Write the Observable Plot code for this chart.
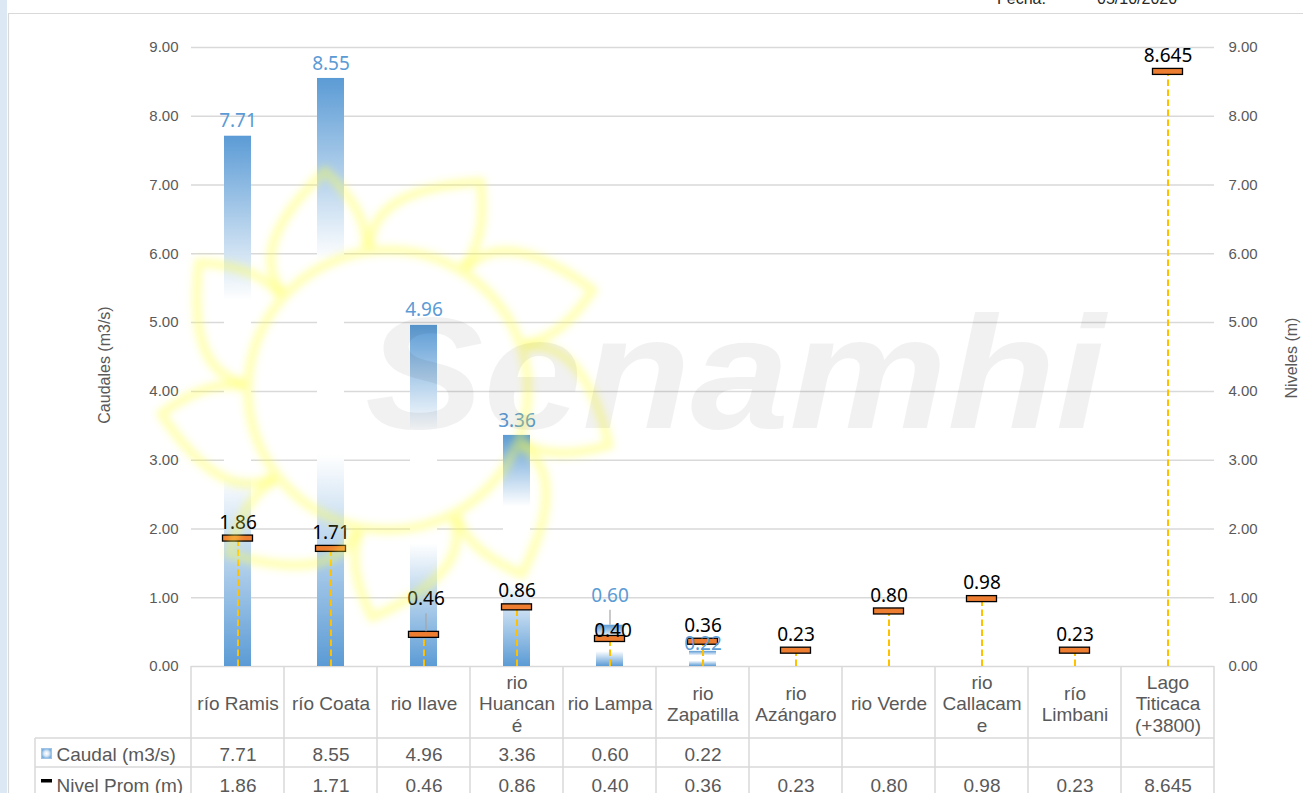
<!DOCTYPE html>
<html><head><meta charset="utf-8">
<script src="https://cdn.jsdelivr.net/npm/d3@7"></script>
<script src="https://cdn.jsdelivr.net/npm/@observablehq/plot@0.6"></script>
<style>
html,body{margin:0;padding:0;background:#fff;overflow:hidden}
#wrap{position:relative;width:1303px;height:793px}
</style></head><body><div id="wrap"></div>
<script>
// ---------- data ----------
const categories = ["río Ramis","río Coata","rio Ilave","rio Huancané","rio Lampa","rio Zapatilla","rio Azángaro","rio Verde","rio Callacame","río Limbani","Lago Titicaca (+3800)"];
const tickLabels = ["río Ramis","río Coata","rio Ilave","rio\nHuancan\né","rio Lampa","rio\nZapatilla","rio\nAzángaro","rio Verde","rio\nCallacam\ne","río\nLimbani","Lago\nTiticaca\n(+3800)"];
const caudal = [7.71, 8.55, 4.96, 3.36, 0.60, 0.22, null, null, null, null, null];
const nivel  = [1.86, 1.71, 0.46, 0.86, 0.40, 0.36, 0.23, 0.80, 0.98, 0.23, 8.645];
const yTicks = [0,1,2,3,4,5,6,7,8,9];
const seriesNames = ["Caudal (m3/s)", "Nivel Prom (m)"];
const axisTitles = ["Caudales (m3/s)", "Niveles (m)"];
const headerTexts = ["Fecha:", "05/10/2020"];
const watermarkText = "Senamhi";

// ---------- layout / style ----------
const W = 1303, H = 793, ML = 191, MR = 89, MT = 47, MB = 127;
const tickFont = "'Liberation Sans', Arial, sans-serif";
const labelFont = "'Noto Sans', 'Open Sans', sans-serif";
const BLUE = "#5b9bd5", ORANGE = "#ed7d31", GOLD = "#ffc000", GREY = "#595959", LINE = "#d9d9d9";

const rows = categories.map((cat, i) => ({cat, tick: tickLabels[i], caudal: caudal[i], nivel: nivel[i]}));
const fmt = v => { const s = String(v); const dec = (s.split(".")[1] || "").length; return v.toFixed(Math.max(2, dec)); };

// label placement tweaks (as in the original, some labels are moved to avoid overlap)
const barLabelDy = {"rio Lampa": -29, "rio Zapatilla": -7};
const nivelLabelDy = {"rio Ilave": -36, "rio Lampa": -8};
const nivelLabelDx = {"rio Ilave": 2, "rio Lampa": 3};

function offsetTexts(data, dyMap, dxMap, defDy, opts) {
  const groups = d3.group(data, d => (dyMap[d.cat] ?? defDy) + "|" + (dxMap[d.cat] ?? 0));
  return Array.from(groups, ([k, arr]) => {
    const [dy, dx] = k.split("|").map(Number);
    return Plot.text(arr, {...opts, dy, dx});
  });
}

// defs: gradients and glow filter
function defsMark() {
  const g = d3.create("svg:g");
  const defs = g.append("defs");
  const lg = defs.append("linearGradient").attr("id", "barGrad").attr("x1", 0).attr("y1", 0).attr("x2", 0).attr("y2", 1);
  [[0, BLUE], [0.31, "#ffffff"], [0.64, "#ffffff"], [1, BLUE]].forEach(([o, c]) => lg.append("stop").attr("offset", o).attr("stop-color", c));
  const rg = defs.append("radialGradient").attr("id", "iconGrad");
  [[0, "#ffffff"], [0.5, "#dbe9f6"], [1, "#7eb0de"]].forEach(([o, c]) => rg.append("stop").attr("offset", o).attr("stop-color", c));
  const f = defs.append("filter").attr("id", "glow").attr("x", "-20%").attr("y", "-20%").attr("width", "140%").attr("height", "140%");
  f.append("feGaussianBlur").attr("stdDeviation", 3.5);
  return g.node();
}

// page frame (excel sheet background)
function frameMark() {
  const g = d3.create("svg:g").attr("text-anchor", "start");
  g.append("rect").attr("x", 0).attr("y", 0).attr("width", 7).attr("height", H).attr("fill", "#dce9f5");
  g.append("line").attr("x1", 8.5).attr("x2", 8.5).attr("y1", 13).attr("y2", H).attr("stroke", LINE).attr("stroke-width", 1.2);
  g.append("line").attr("x1", 8).attr("x2", W).attr("y1", 13.5).attr("y2", 13.5).attr("stroke", LINE).attr("stroke-width", 1.2);
  g.append("text").attr("x", 997).attr("y", 4).attr("font-family", tickFont).attr("font-size", 16).attr("fill", "#262626").text(headerTexts[0]);
  g.append("text").attr("x", 1097).attr("y", 4).attr("font-family", tickFont).attr("font-size", 16).attr("fill", "#262626").text(headerTexts[1]);
  return g.node();
}

// watermark
function watermarkMark() {
  const g = d3.create("svg:g").attr("pointer-events", "none").attr("text-anchor", "start");
  const cx = 388, cy = 390, r = 140;
  const sun = g.append("g").attr("fill", "none").attr("stroke", "#ffff40").attr("stroke-width", 10)
    .attr("stroke-opacity", 0.36).attr("stroke-linejoin", "round").attr("filter", "url(#glow)");
  sun.append("circle").attr("cx", cx).attr("cy", cy).attr("r", r);
  const P = (a, rad) => [cx + rad * Math.cos(a * Math.PI / 180), cy + rad * Math.sin(a * Math.PI / 180)];
  for (const a of [-78, -38, 2, 42, 82, 122, 162, 202, 242]) {
    const b1 = P(a - 19, r + 4), b2 = P(a + 19, r + 4), tip = P(a + 12, r + 88);
    const c1 = P(a - 17, r + 62), c2 = P(a + 22, r + 38);
    sun.append("path").attr("d", `M${b1}Q${c1} ${tip}Q${c2} ${b2}`);
  }
  g.append("text").attr("x", 365).attr("y", 428).attr("font-family", tickFont).attr("font-weight", "bold")
    .attr("font-style", "italic").attr("font-size", 160).attr("textLength", 740).attr("lengthAdjust", "spacingAndGlyphs")
    .attr("fill", "#000").attr("fill-opacity", 0.055).text(watermarkText);
  return g.node();
}

// data table grid lines + legend keys
function tableMark(index, scales, values, dim) {
  const g = d3.create("svg:g").attr("stroke", LINE).attr("stroke-width", 1.5);
  const x = scales.x;
  const y0 = dim.height - dim.marginBottom;
  const right = dim.width - dim.marginRight;
  const xs = categories.map(c => x(c)); xs.push(right);
  const r1 = y0 + 72, r2 = y0 + 101, left = 35;
  for (const xv of xs) g.append("line").attr("x1", xv).attr("x2", xv).attr("y1", y0).attr("y2", dim.height);
  g.append("line").attr("x1", left).attr("x2", left).attr("y1", r1).attr("y2", dim.height);
  g.append("line").attr("x1", left).attr("x2", right).attr("y1", r1).attr("y2", r1);
  g.append("line").attr("x1", left).attr("x2", right).attr("y1", r2).attr("y2", r2);
  g.append("rect").attr("x", 41.5).attr("y", r1 + 10.5).attr("width", 10).attr("height", 10)
    .attr("fill", "url(#iconGrad)").attr("stroke", "#9dc3e6").attr("stroke-width", 1);
  g.append("rect").attr("x", 41).attr("y", r2 + 12).attr("width", 11).attr("height", 3.5).attr("fill", "#000").attr("stroke", "none");
  return g.node();
}

const tableTextOpts = {frameAnchor: "bottom", fontFamily: tickFont, fontSize: 19, fill: GREY, lineAnchor: "middle"};

const chart = Plot.plot({
  width: W, height: H,
  marginLeft: ML, marginRight: MR, marginTop: MT, marginBottom: MB,
  style: {fontFamily: tickFont, fontSize: "15px", color: GREY, background: "transparent", overflow: "visible"},
  x: {domain: categories, padding: 0, axis: null},
  y: {domain: [0, 9]},
  marks: [
    defsMark,
    frameMark,
    Plot.gridY(yTicks, {stroke: LINE, strokeOpacity: 1, strokeWidth: 1.5}),
    Plot.axisY(yTicks, {anchor: "left", tickSize: 0, tickPadding: 13, tickFormat: d3.format(".2f"), label: null, fontSize: 15}),
    Plot.axisY(yTicks, {anchor: "right", tickSize: 0, tickPadding: 14, tickFormat: d3.format(".2f"), label: null, fontSize: 15}),
    Plot.text([axisTitles[0]], {frameAnchor: "left", textAnchor: "middle", dx: -87, dy: 8, rotate: -90, text: d => d, fontSize: 16, fill: GREY}),
    Plot.text([axisTitles[1]], {frameAnchor: "right", textAnchor: "middle", dx: 77, dy: 1, rotate: -90, text: d => d, fontSize: 16, fill: GREY}),
    Plot.barY(rows.filter(d => d.caudal != null), {x: "cat", y: "caudal", fill: "url(#barGrad)", insetLeft: 33, insetRight: 33}),
    Plot.ruleX(rows, {x: "cat", y1: 0, y2: "nivel", stroke: GOLD, strokeWidth: 2, strokeDasharray: "6.5,3.5"}),
    Plot.barY(rows, {x: "cat", y1: "nivel", y2: "nivel", insetLeft: 31.5, insetRight: 31.5, insetTop: -3, insetBottom: -3, fill: ORANGE, stroke: "#000", strokeWidth: 1.3}),
    // leader lines for displaced labels
    Plot.ruleX(rows.filter(d => d.cat === "rio Ilave"), {x: "cat", y1: "nivel", y2: "nivel", insetTop: -21, insetBottom: 3, dx: 2, stroke: "#a6a6a6", strokeWidth: 1.2}),
    Plot.ruleX(rows.filter(d => d.cat === "rio Lampa"), {x: "cat", y1: "caudal", y2: "caudal", insetTop: -15, insetBottom: 0, stroke: "#a6a6a6", strokeWidth: 1.2}),
    ...offsetTexts(rows.filter(d => d.caudal != null), barLabelDy, {}, -15,
      {x: "cat", y: "caudal", text: d => fmt(d.caudal), fill: BLUE, fontFamily: labelFont, fontSize: 19, lineAnchor: "middle"}),
    ...offsetTexts(rows, nivelLabelDy, nivelLabelDx, -16,
      {x: "cat", y: "nivel", text: d => fmt(d.nivel), fill: "#000", fontFamily: labelFont, fontSize: 19, lineAnchor: "middle"}),
    watermarkMark,
    // data table
    tableMark,
    Plot.text(rows, {...tableTextOpts, x: "cat", dy: 37, text: "tick", lineHeight: 1.13}),
    Plot.text(rows.filter(d => d.caudal != null), {...tableTextOpts, x: "cat", dy: 88, text: d => fmt(d.caudal)}),
    Plot.text(rows, {...tableTextOpts, x: "cat", dy: 119, text: d => fmt(d.nivel)}),
    Plot.text([seriesNames[0]], {...tableTextOpts, frameAnchor: "bottom-left", dx: 56 - ML, dy: 88, textAnchor: "start", text: d => d}),
    Plot.text([seriesNames[1]], {...tableTextOpts, frameAnchor: "bottom-left", dx: 56 - ML, dy: 119, textAnchor: "start", text: d => d})
  ]
});
document.getElementById("wrap").appendChild(chart);
</script></body></html>
